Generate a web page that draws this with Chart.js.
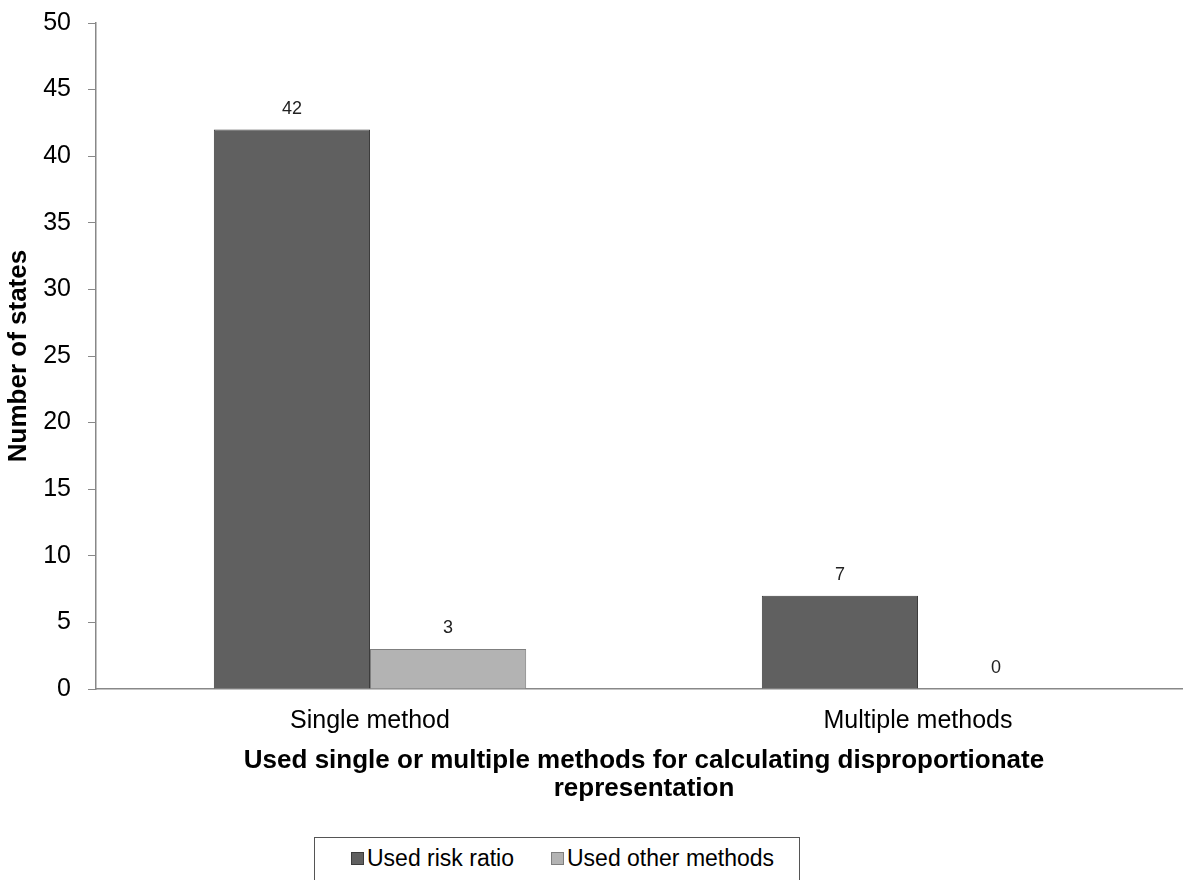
<!DOCTYPE html>
<html>
<head>
<meta charset="utf-8">
<script src="https://cdn.jsdelivr.net/npm/chart.js@4/dist/chart.umd.min.js"></script>
<style>
  html, body { margin: 0; padding: 0; background: #fff; overflow: hidden; }
  #wrap { position: relative; width: 1192px; height: 839px; margin-top: -9px; }
  #legend {
    position: absolute; left: 314px; top: 837px; width: 486px; height: 60px;
    border: 1px solid #555; font-family: "Liberation Sans", Arial, sans-serif;
    font-size: 23px; color: #000; box-sizing: border-box;
  }
  #legend span.item { position: absolute; top: 7px; white-space: nowrap; }
  #legend i { display: inline-block; width: 13px; height: 13px; margin-right: 3px; vertical-align: 1px; box-sizing: border-box; }
</style>
</head>
<body>
<div id="wrap"><canvas id="chart"></canvas></div>
<div id="legend"></div>
<script>
const categories = ["Single method", "Multiple methods"];
const seriesNames = ["Used risk ratio", "Used other methods"];
const riskRatio = [42, 7];
const otherMethods = [3, 0];
const colors = ["#606060", "#b3b3b3"];
const borders = ["#3c3c3c", "#7f7f7f"];
const FONT = "'Liberation Sans', Arial, sans-serif";

// number above each bar
const valueLabels = {
  id: "valueLabels",
  afterDatasetsDraw(chart) {
    const ctx = chart.ctx;
    ctx.save();
    ctx.font = "18px " + FONT;
    ctx.fillStyle = "#222";
    ctx.textAlign = "center";
    ctx.textBaseline = "bottom";
    chart.data.datasets.forEach((ds, i) => {
      chart.getDatasetMeta(i).data.forEach((bar, j) => {
        ctx.fillText(String(ds.data[j]), bar.x, bar.y - 12);
      });
    });
    ctx.restore();
  },
};

new Chart(document.getElementById("chart"), {
  type: "bar",
  data: {
    labels: categories,
    datasets: [
      {
        label: seriesNames[0],
        data: riskRatio,
        backgroundColor: colors[0],
        borderColor: borders[0],
        borderWidth: 1,
      },
      {
        label: seriesNames[1],
        data: otherMethods,
        backgroundColor: colors[1],
        borderColor: borders[1],
        borderWidth: 1,
      },
    ],
  },
  options: {
    responsive: true,
    maintainAspectRatio: false,
    animation: false,
    layout: { padding: { top: 6, right: 0, left: 0, bottom: 0 } },
    datasets: { bar: { categoryPercentage: 0.57, barPercentage: 1 } },
    plugins: { legend: { display: false }, tooltip: { enabled: false } },
    scales: {
      x: {
        grid: { display: false },
        border: { display: true, color: "#888", width: 1.5 },
        ticks: { color: "#000", font: { family: FONT, size: 25 }, padding: 9 },
        title: {
          display: true,
          text: ["Used single or multiple methods for calculating disproportionate", "representation"],
          color: "#000",
          font: { family: FONT, size: 26, weight: "bold", lineHeight: 1.05 },
          padding: { top: 6, bottom: 28 },
        },
        afterFit(scale) { scale.height = 141; },
      },
      y: {
        min: 0,
        max: 50,
        ticks: { stepSize: 5, color: "#000", font: { family: FONT, size: 25 }, padding: 17 },
        grid: { drawOnChartArea: false, tickLength: 8, color: "#888" },
        border: { display: true, color: "#888", width: 1.5 },
        title: {
          display: true,
          text: "Number of states",
          color: "#000",
          font: { family: FONT, size: 26, weight: "bold" },
          padding: { top: 3, bottom: 0 },
        },
        afterFit(scale) { scale.width = 96; },
      },
    },
  },
  plugins: [valueLabels],
});

const legend = document.getElementById("legend");
const lefts = [36, 236];
seriesNames.forEach((name, i) => {
  const item = document.createElement("span");
  item.className = "item";
  item.style.left = lefts[i] + "px";
  item.innerHTML = '<i style="background:' + colors[i] + ';border:1px solid ' + borders[i] + '"></i>' + name;
  legend.appendChild(item);
});
</script>
</body>
</html>
